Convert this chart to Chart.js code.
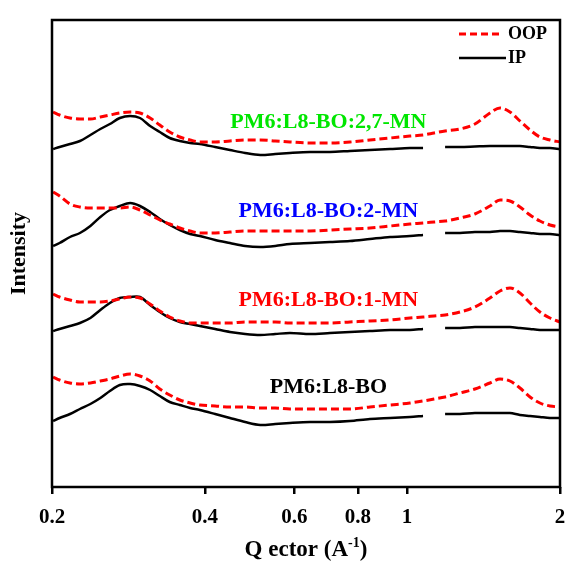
<!DOCTYPE html>
<html>
<head>
<meta charset="utf-8">
<script src="https://cdn.jsdelivr.net/npm/chart.js@4.4.0/dist/chart.umd.min.js"></script>
<style>
  html, body { margin: 0; padding: 0; background: #fff; }
</style>
</head>
<body>
<canvas id="chart" width="569" height="565"></canvas>
<script>
// q grid (A^-1), shared by all curves
const qValues = [0.201, 0.207, 0.217, 0.227, 0.238, 0.249, 0.26, 0.272, 0.285, 0.298,
    0.312, 0.326, 0.341, 0.357, 0.374, 0.391, 0.419, 0.448, 0.48, 0.514,
    0.55, 0.588, 0.644, 0.705, 0.772, 0.845, 0.926, 1.013, 1.075, 1.13,
    1.188, 1.271, 1.36, 1.456, 1.524, 1.594, 1.668, 1.746, 1.826, 1.911, 2.0];
const tickValues = [0.2, 0.4, 0.6, 0.8, 1, 2];

const sampleNames = ['PM6:L8-BO:2,7-MN', 'PM6:L8-BO:2-MN', 'PM6:L8-BO:1-MN', 'PM6:L8-BO'];
const sampleColors = ['#00e600', '#0000ff', '#ff0000', '#000000'];

// stacked intensities (a.u., offset per sample)
const oop27MN = [375, 372, 369, 368, 368, 370, 372, 374, 375, 374,
    369, 362, 355, 350, 347, 345, 345, 346, 347, 347,
    346, 345, 344, 344, 345, 347, 349, 351, 352, 354,
    356, 358, 363, 374, 379, 375, 366, 357, 350, 347, 345];
const ip27MN = [338, 340, 343, 346, 352, 358, 363, 369, 371, 369,
    361, 355, 349, 346, 344, 343, 340, 337, 334, 332,
    333, 334, 335, 335, 336, 337, 338, 339, 339, null,
    340, 340, 340.5, 341, 341, 341, 341, 340, 339, 339, 338];
const oop2MN = [295, 291, 283, 280, 279, 279, 279, 279, 280, 277,
    272, 267, 263, 259, 256, 254, 254, 255, 256, 256,
    256, 256, 256, 257, 258, 259, 261, 263, 264, 265,
    266, 269, 273, 281, 287, 286, 280, 272, 266, 262, 260];
const ip2MN = [241, 244, 250, 254, 261, 270, 277, 281, 284, 281,
    275, 268, 262, 257, 253, 251, 247, 244, 241, 240,
    241, 243, 244, 245, 246, 248, 250, 251, 252, null,
    254, 254, 255, 255, 256, 256, 255, 254, 253, 253, 252];
const oop1MN = [193, 190, 187, 185, 185, 185, 186, 188, 190, 189,
    183, 176, 170, 166, 164, 164, 164, 164, 165, 165,
    165, 164, 164, 164, 165, 166, 167, 169, 170, 171,
    172, 175, 180, 189, 196, 199, 194, 184, 175, 169, 165];
const ip1MN = [156, 158, 161, 164, 169, 177, 184, 189, 190, 190,
    182, 175, 169, 165, 163, 161, 158, 155, 153, 152,
    153, 154, 153, 154, 155, 156, 157, 157, 158, null,
    159, 159, 160, 160, 160, 160, 159, 158, 157, 157, 157];
const oopNeat = [110, 107, 104, 103, 104, 106, 108, 111, 113, 111,
    106, 98, 92, 87, 84, 82, 81, 80, 80, 79,
    79, 78, 78, 78, 78, 80, 82, 84, 86, 88,
    90, 94, 98, 104, 108, 106, 99, 90, 84, 81, 80];
const ipNeat = [66, 69, 73, 78, 83, 89, 96, 102, 103, 101,
    97, 91, 85, 82, 79, 77, 73, 69, 65, 62,
    63, 64, 65, 65, 66, 68, 69, 70, 71, null,
    73, 73, 74, 74, 74, 74, 72, 71, 70, 69, 69];

const oopSeries = [oop27MN, oop2MN, oop1MN, oopNeat];
const ipSeries = [ip27MN, ip2MN, ip1MN, ipNeat];

const serif = '"Liberation Serif", "Times New Roman", serif';

function toPoints(values) {
    return qValues.map((q, i) => ({ x: q, y: values[i] }));
}

const datasets = [];
oopSeries.forEach((vals, i) => {
    datasets.push({
        label: 'OOP ' + sampleNames[i],
        data: toPoints(vals),
        borderColor: '#ff0000',
        borderWidth: 3,
        borderDash: [8, 4],
        cubicInterpolationMode: 'monotone',
        pointRadius: 0
    });
    datasets.push({
        label: 'IP ' + sampleNames[i],
        data: toPoints(ipSeries[i]),
        borderColor: '#000000',
        borderWidth: 2.5,
        tension: 0.3,
        pointRadius: 0
    });
});

// frame, legend, sample names and axis titles
const decorations = {
    id: 'decorations',
    afterDraw(chart) {
        const ctx = chart.ctx;
        const a = chart.chartArea;
        const xs = chart.scales.x, ys = chart.scales.y;
        ctx.save();

        ctx.strokeStyle = '#000';
        ctx.lineWidth = 2.5;
        ctx.strokeRect(a.left, a.top, a.right - a.left, a.bottom - a.top);

        // legend
        ctx.lineWidth = 3;
        ctx.strokeStyle = '#ff0000';
        ctx.setLineDash([7, 4]);
        ctx.beginPath(); ctx.moveTo(459, 34); ctx.lineTo(502, 34); ctx.stroke();
        ctx.setLineDash([]);
        ctx.strokeStyle = '#000';
        ctx.lineWidth = 2.5;
        ctx.beginPath(); ctx.moveTo(459, 58); ctx.lineTo(506, 58); ctx.stroke();
        ctx.fillStyle = '#000';
        ctx.font = 'bold 18px ' + serif;
        ctx.textBaseline = 'middle';
        ctx.textAlign = 'left';
        ctx.fillText('OOP', 508, 34);
        ctx.fillText('IP', 508, 58);

        // sample names
        const labelLevels = [365, 276, 187, 100];
        ctx.font = 'bold 22px ' + serif;
        ctx.textAlign = 'center';
        sampleNames.forEach((name, i) => {
            ctx.fillStyle = sampleColors[i];
            ctx.fillText(name, xs.getPixelForValue(0.7), ys.getPixelForValue(labelLevels[i]));
        });

        // x title with superscript
        ctx.fillStyle = '#000';
        ctx.textAlign = 'left';
        ctx.textBaseline = 'alphabetic';
        const main = 'Q ector (A', sup = '-1', end = ')';
        ctx.font = 'bold 23px ' + serif;
        const w1 = ctx.measureText(main).width, w3 = ctx.measureText(end).width;
        ctx.font = 'bold 14px ' + serif;
        const w2 = ctx.measureText(sup).width;
        let x = (a.left + a.right) / 2 - (w1 + w2 + w3) / 2;
        const base = 556;
        ctx.font = 'bold 23px ' + serif;
        ctx.fillText(main, x, base);
        ctx.font = 'bold 14px ' + serif;
        ctx.fillText(sup, x + w1, base - 9);
        ctx.font = 'bold 23px ' + serif;
        ctx.fillText(end, x + w1 + w2, base);

        // y title
        ctx.translate(19, (a.top + a.bottom) / 2);
        ctx.rotate(-Math.PI / 2);
        ctx.textAlign = 'center';
        ctx.textBaseline = 'middle';
        ctx.font = 'bold 22px ' + serif;
        ctx.fillText('Intensity', 0, 0);
        ctx.restore();
    }
};

new Chart(document.getElementById('chart'), {
    type: 'line',
    data: { datasets: datasets },
    options: {
        responsive: false,
        animation: false,
        devicePixelRatio: 1,
        layout: { padding: { top: 20, right: 9, left: 0, bottom: 0 } },
        plugins: {
            legend: { display: false },
            tooltip: { enabled: false }
        },
        scales: {
            x: {
                type: 'logarithmic',
                min: 0.2,
                max: 2,
                afterBuildTicks: axis => {
                    axis.ticks = tickValues.map(v => ({ value: v }));
                },
                afterFit: axis => {
                    axis.height = 78;
                    axis.paddingLeft = 0;
                    axis.paddingRight = 0;
                },
                grid: {
                    display: true,
                    drawOnChartArea: false,
                    drawTicks: true,
                    tickLength: 7,
                    color: '#000',
                    lineWidth: 2.5
                },
                border: { display: false },
                ticks: {
                    color: '#000',
                    autoSkip: false,
                    maxRotation: 0,
                    padding: 11,
                    font: { family: serif, size: 21, weight: 'bold' },
                    callback: v => String(v)
                }
            },
            y: {
                min: 0,
                max: 467,
                afterFit: axis => { axis.width = 52; },
                ticks: { display: false },
                grid: { display: false },
                border: { display: false }
            }
        }
    },
    plugins: [decorations]
});
</script>
</body>
</html>
